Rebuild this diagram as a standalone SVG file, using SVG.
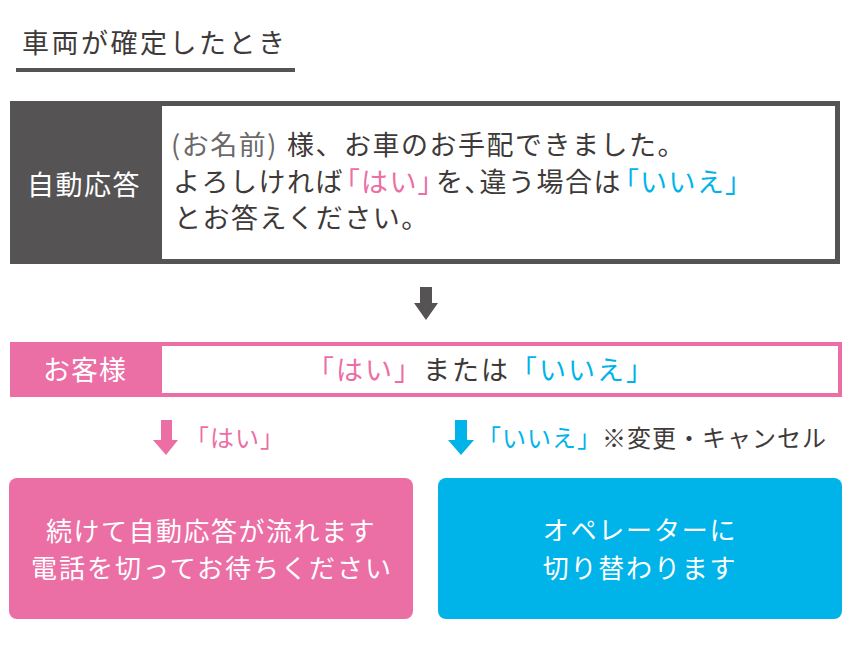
<svg xmlns="http://www.w3.org/2000/svg" width="850" height="667" viewBox="0 0 850 667">
<style>
text{font-family:"Noto Sans CJK JP","Noto Sans",sans-serif;font-weight:400}
.dk{fill:#3e3a39}
.gy{fill:#6b6969}
.pk{fill:#eb6ea5}
.bl{fill:#00b4ea}
.wt{fill:#ffffff}
.body{font-size:27px;letter-spacing:1.5px}
.palt{font-feature-settings:"palt" 1}
</style>
<rect width="850" height="667" fill="#ffffff"/>
<g id="title">
<text x="22" y="53" font-size="27" letter-spacing="2.5" class="dk">車両が確定したとき</text>
<rect x="16" y="68" width="279" height="4" fill="#555354"/>
</g>
<g id="auto-answer">
<rect x="12.5" y="103.5" width="825" height="158" fill="#ffffff" stroke="#555354" stroke-width="5"/>
<rect x="10" y="101" width="152" height="163" fill="#555354"/>
<text x="84" y="195" font-size="27" letter-spacing="1.5" text-anchor="middle" class="wt">自動応答</text>
<text y="155" class="body dk"><tspan x="171" class="gy">(お名前)</tspan><tspan x="287">様、お車のお手配できました。</tspan></text>
<text x="173" y="192" class="body dk">よろしければ<tspan dx="2" class="pk palt">「</tspan><tspan class="pk">はい</tspan><tspan class="pk palt">」</tspan><tspan dx="3">を</tspan><tspan class="palt">、</tspan>違う場合は<tspan dx="3" class="bl palt">「</tspan><tspan class="bl">いいえ</tspan><tspan class="bl palt">」</tspan></text>
<text x="174" y="228" class="body dk">とお答えください。</text>
</g>
<g id="customer">
<rect x="12" y="344" width="828" height="51" fill="#ffffff" stroke="#eb6ea5" stroke-width="4"/>
<rect x="10" y="342" width="152" height="55" fill="#eb6ea5"/>
<text x="85" y="380" font-size="27" letter-spacing="1" text-anchor="middle" class="wt">お客様</text>
<text x="307" y="380" font-size="27" letter-spacing="2" class="dk"><tspan class="pk">「はい」</tspan>または<tspan class="bl">「いいえ」</tspan></text>
</g>
<g id="yes-box">
<rect x="9" y="478" width="404" height="141" rx="8" fill="#eb6ea5"/>
<text x="211" y="541" font-size="26" text-anchor="middle" letter-spacing="1.5" class="wt">続けて自動応答が流れます</text>
<text x="212" y="578" font-size="26" text-anchor="middle" letter-spacing="2" class="wt">電話を切ってお待ちください</text>
</g>
<g id="no-box">
<rect x="438" y="478" width="404" height="141" rx="8" fill="#00b4ea"/>
<text x="640" y="540" font-size="26" text-anchor="middle" letter-spacing="1.8" class="wt">オペレーターに</text>
<text x="640" y="578" font-size="26" text-anchor="middle" letter-spacing="1.8" class="wt">切り替わります</text>
</g>
<g id="connectors">
<polygon points="420,287 432,287 432,303 438,303 426,320 414,303 420,303" fill="#555354"/>
<polygon points="161,420 172,420 172,440 178,440 166,455 153,440 161,440" fill="#eb6ea5"/>
<text x="185" y="447" font-size="24" letter-spacing="1" class="pk">「はい」</text>
<polygon points="455,420 467,420 467,440 474,440 461,455 448,440 455,440" fill="#00b4ea"/>
<text x="477" y="447" font-size="24" letter-spacing="1" class="bl">「いいえ」<tspan class="dk">※変更・キャンセル</tspan></text>
</g>
</svg>
